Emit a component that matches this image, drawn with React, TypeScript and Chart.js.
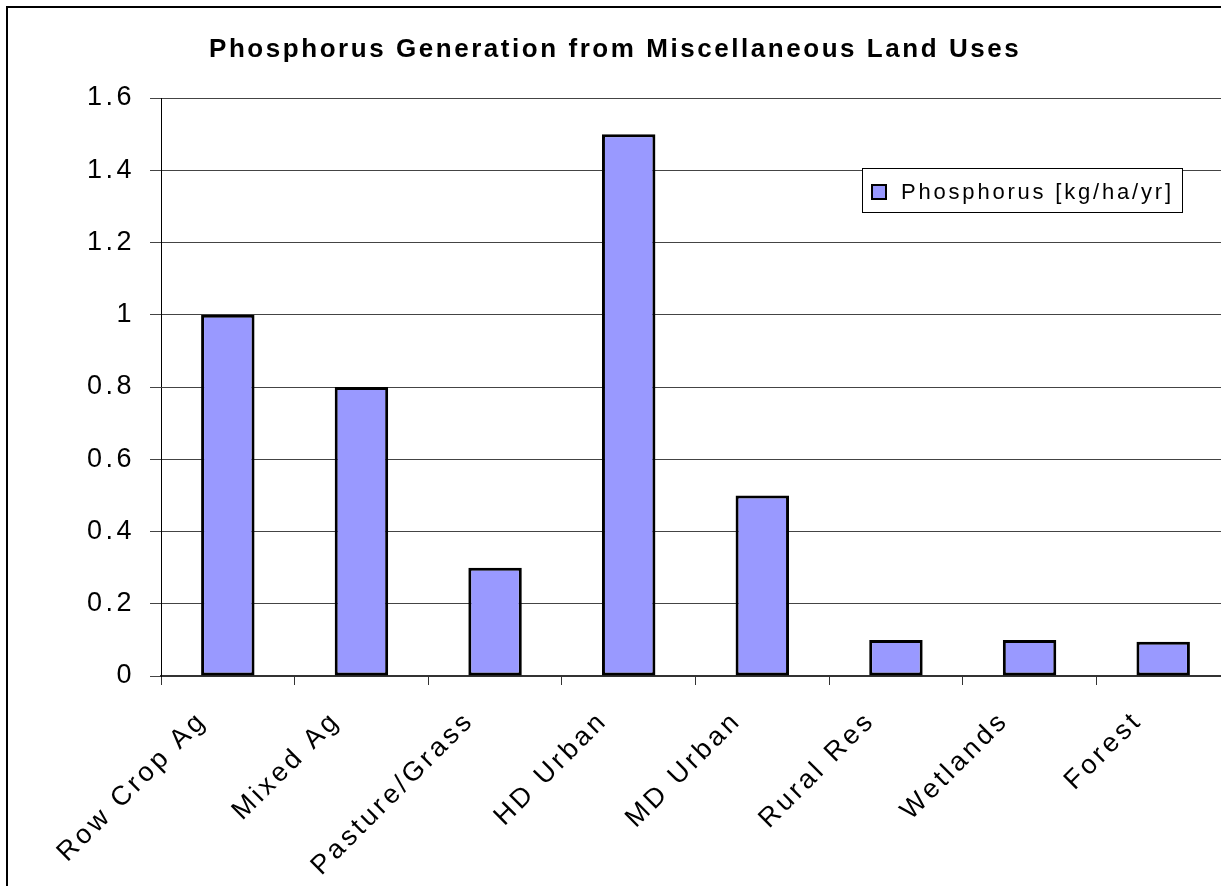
import React, { useEffect, useRef } from "react";
import { Chart, registerables } from "chart.js";

Chart.register(...registerables);

const categories = ["Row Crop Ag", "Mixed Ag", "Pasture/Grass", "HD Urban", "MD Urban", "Rural Res", "Wetlands", "Forest"];
const phosphorus = [1.0, 0.8, 0.3, 1.5, 0.5, 0.1, 0.1, 0.095];
const seriesLabel = "Phosphorus [kg/ha/yr]";
const titleText = "Phosphorus Generation from Miscellaneous Land Uses";
const yTicks = [0, 0.2, 0.4, 0.6, 0.8, 1, 1.2, 1.4, 1.6];

const FONT = "'Liberation Sans', Arial, sans-serif";
const CW = 1260;
const CH = 920;

export default function App() {
  const ref = useRef<HTMLCanvasElement | null>(null);
  useEffect(() => {
    if (!ref.current) return;
    const framePlugin = {
      id: "frame",
      beforeDraw(chart: any) {
        const ctx = chart.ctx;
        ctx.save();
        ctx.fillStyle = "#fff";
        ctx.fillRect(0, 0, chart.width, chart.height);
        ctx.strokeStyle = "#000";
        ctx.lineWidth = 2;
        ctx.strokeRect(7, 7, 1400, 1000);
        ctx.restore();
        (ctx as any).letterSpacing = "3.5px";
      },
      afterDraw(chart: any) {
        const ctx = chart.ctx;
        ctx.save();
        // title
        ctx.fillStyle = "#000";
        ctx.font = `bold 26px ${FONT}`;
        ctx.textAlign = "left";
        ctx.textBaseline = "alphabetic";
        (ctx as any).letterSpacing = "2.55px";
        ctx.fillText(titleText, 209, 57);
        // legend
        const ds = chart.data.datasets[0];
        const bx = 862, by = 168, bw = 320, bh = 44;
        ctx.fillStyle = "#fff";
        ctx.fillRect(bx, by, bw, bh);
        ctx.strokeStyle = "#000";
        ctx.lineWidth = 1;
        ctx.strokeRect(bx + 0.5, by + 0.5, bw, bh);
        ctx.fillStyle = ds.backgroundColor;
        ctx.fillRect(872, 185, 14, 14);
        ctx.lineWidth = 2;
        ctx.strokeRect(872, 185, 14, 14);
        ctx.fillStyle = "#000";
        ctx.font = `22px ${FONT}`;
        ctx.textAlign = "left";
        ctx.textBaseline = "alphabetic";
        (ctx as any).letterSpacing = "2.8px";
        ctx.fillText(ds.label, 901, 199);
        (ctx as any).letterSpacing = "0px";
        ctx.restore();
      },
    };
    const chart = new Chart(ref.current, {
      type: "bar",
      data: {
        labels: categories,
        datasets: [
          {
            label: seriesLabel,
            data: phosphorus,
            backgroundColor: "#9999FF",
            borderColor: "#000",
            borderWidth: 3,
            borderSkipped: false,
            barPercentage: 0.4,
            categoryPercentage: 1,
          },
        ],
      },
      options: {
        responsive: false,
        animation: false,
        devicePixelRatio: 1,
        layout: { padding: { left: 0, top: 98, right: CW - 1230, bottom: 0 } },
        plugins: {
          legend: { display: false },
          title: { display: false },
          tooltip: { enabled: false },
        },
        scales: {
          x: {
            offset: true,
            grid: {
              display: true,
              drawOnChartArea: false,
              offset: true,
              tickLength: 9,
              color: "#333",
            },
            border: { display: true, color: "#333", width: 2 },
            ticks: {
              color: "#000",
              font: { family: FONT, size: 27 },
              minRotation: 45,
              maxRotation: 45,
              autoSkip: false,
              padding: 20,
              labelOffset: -25,
            },
            afterFit(scale: any) {
              scale.height = CH - 676;
            },
          },
          y: {
            min: 0,
            max: 1.6,
            afterBuildTicks(scale: any) {
              scale.ticks = yTicks.map((v) => ({ value: v }));
            },
            grid: { color: "#444", lineWidth: 1, tickLength: 11 },
            border: { display: true, color: "#000", width: 1 },
            ticks: {
              color: "#000",
              font: { family: FONT, size: 27 },
              padding: 15,
              callback: (v: any) => String(Math.round(Number(v) * 10) / 10),
            },
            afterFit(scale: any) {
              scale.width = 161;
            },
          },
        },
      },
      plugins: [framePlugin],
    });
    return () => chart.destroy();
  }, []);
  return (
    <div style={{ position: "fixed", left: 0, top: 0, width: 1221, height: 886, overflow: "hidden", background: "#fff" }}>
      <canvas ref={ref} width={CW} height={CH} style={{ display: "block", width: CW, height: CH }} />
    </div>
  );
}
